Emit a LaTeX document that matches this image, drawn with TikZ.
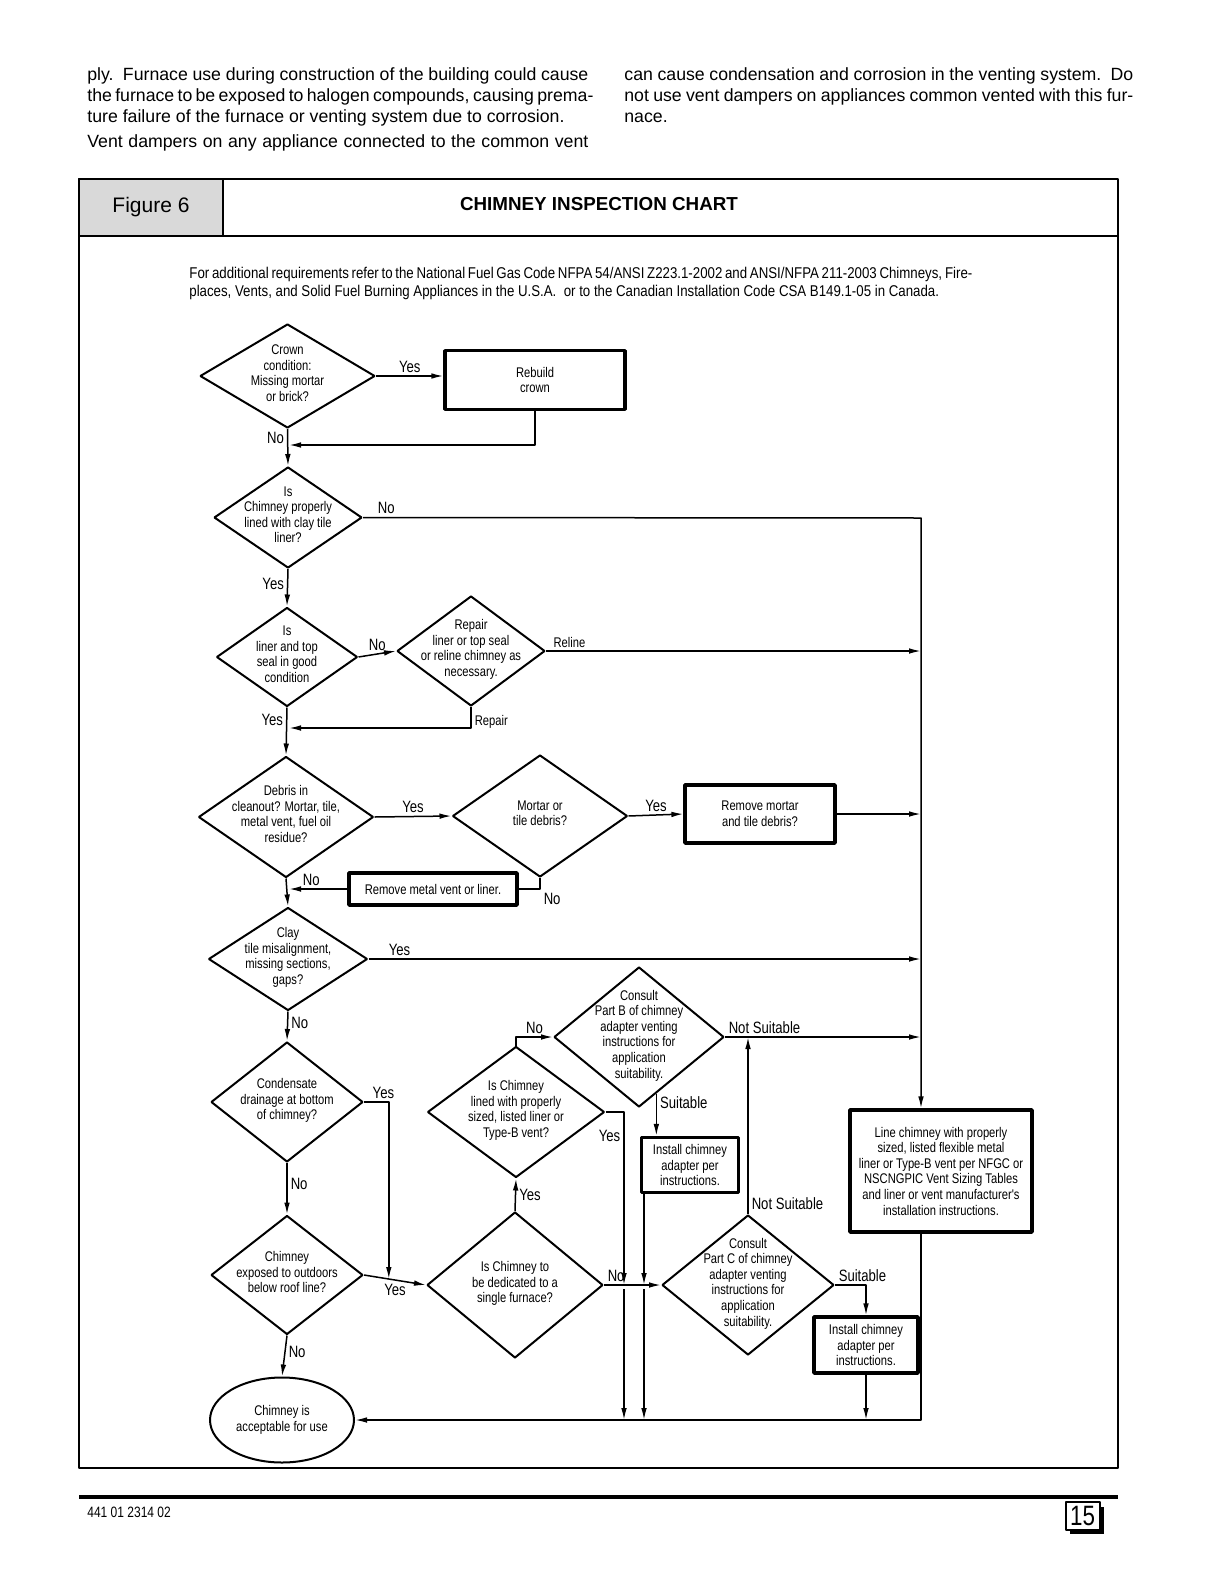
\documentclass[tikz,border=0pt]{standalone}
\usepackage{fontspec}
\usetikzlibrary{shapes.geometric,arrows.meta,calc}
\newfontfamily\bodyfont{Liberation Sans}
\newfontfamily\chartfont[FakeStretch=0.8]{Liberation Sans}
\newfontfamily\introfont[FakeStretch=0.85]{Liberation Sans}
\newcommand{\bodysize}{\bodyfont\fontsize{8.85}{10.5}\selectfont}
\newcommand{\chartsize}{\chartfont\fontsize{7}{7.8}\selectfont}
\newcommand{\introsize}{\introfont\fontsize{7.8}{9}\selectfont}
\newcommand{\labelsize}{\chartfont\fontsize{8.2}{9}\selectfont}
% text of a decision diamond, taking no room of its own
\newcommand{\dtext}[1]{\makebox[0pt]{\smash{\raisebox{-1.2pt}{\begin{tabular}{@{}c@{}}#1\end{tabular}}}}}
\newcommand{\fitline}[2]{\makebox[#1][s]{#2}}

\begin{document}
\begin{tikzpicture}[x=0.5pt,y=-0.5pt,>={Latex[length=6pt,width=2.8pt]},line join=bevel,
  decision/.style={diamond,draw,line width=1pt,inner sep=0pt,font=\chartsize},
  process/.style={rectangle,draw,line width=1.6pt,inner sep=1pt,align=center,font=\chartsize},
  lbl/.style={font=\labelsize,inner sep=1.5pt},
  flow/.style={line width=0.75pt}]
\useasboundingbox (0,0) rectangle (1212,1574);
\fill[white] (0,0) rectangle (1212,1574);
  % Page text above the figure
  \node[anchor=base west,inner sep=0pt,font=\bodysize] (p1) at (87,80) {\fitline{250.5pt}{ply.\ \ Furnace use during construction of the building could cause}};
  \node[anchor=base west,inner sep=0pt,font=\bodysize] (p2) at (87,101) {\fitline{250.5pt}{the furnace to be exposed to halogen compounds, causing prema-}};
  \node[anchor=base west,inner sep=0pt,font=\bodysize] (p3) at (87,122) {ture failure of the furnace or venting system due to corrosion.};
  \node[anchor=base west,inner sep=0pt,font=\bodysize] (p4) at (87,147) {\fitline{250.5pt}{Vent dampers on any appliance connected to the common vent}};
  \node[anchor=base west,inner sep=0pt,font=\bodysize] (q1) at (624,80) {\fitline{254.5pt}{can cause condensation and corrosion in the venting system.\ \ Do}};
  \node[anchor=base west,inner sep=0pt,font=\bodysize] (q2) at (624,101) {\fitline{254.5pt}{not use vent dampers on appliances common vented with this fur-}};
  \node[anchor=base west,inner sep=0pt,font=\bodysize] (q3) at (624,122) {nace.};
  % Frame and heading
  \draw[line width=1pt] (79,179) rectangle (1118,1468);
  \draw[line width=1pt] (79,236) -- (1118,236);
  \node[draw,line width=1pt,fill=black!15,minimum width=72pt,minimum height=28.5pt,font=\bodyfont\fontsize{10.5}{12}\selectfont] (figcell) at (151,207.5) {Figure 6};
  \node[font=\bodyfont\bfseries\fontsize{9.4}{11}\selectfont] (title) at (599,204) {CHIMNEY INSPECTION CHART};
  \node[anchor=base west,inner sep=0pt,font=\introsize] (intro1) at (189,278) {\fitline{391.5pt}{For additional requirements refer to the National Fuel Gas Code NFPA 54/ANSI Z223.1-2002 and ANSI/NFPA 211-2003 Chimneys, Fire-}};
  \node[anchor=base west,inner sep=0pt,font=\introsize] (intro2) at (189,296) {places, Vents, and Solid Fuel Burning Appliances in the U.S.A.\ \ or to the Canadian Installation Code CSA B149.1-05 in Canada.};
  % Node: crown
  \node[decision,minimum width=87.5pt,minimum height=52pt] (crown) at (287.5,376) {\dtext{Crown\\condition:\\Missing mortar\\or brick?}};
  % Node: rebuild
  \node[process,minimum width=90pt,minimum height=29.5pt] (rebuild) at (535,380) {Rebuild\\crown};
  % Node: lined
  \node[decision,minimum width=74pt,minimum height=50.5pt] (lined) at (288,517.5) {\dtext{Is\\Chimney properly\\lined with clay tile\\liner?}};
  % Node: liner
  \node[decision,minimum width=70.5pt,minimum height=49.5pt] (liner) at (287,657) {\dtext{Is\\liner and top\\seal in good\\condition}};
  % Node: repair
  \node[decision,minimum width=74pt,minimum height=55pt] (repair) at (471,651) {\dtext{Repair\\liner or top seal\\or reline chimney as\\necessary.}};
  % Node: debris
  \node[decision,minimum width=87.5pt,minimum height=60.5pt] (debris) at (286,817) {\dtext{Debris in\\cleanout? Mortar, tile,\\metal vent, fuel oil\\residue?}};
  % Node: mortar
  \node[decision,minimum width=87.5pt,minimum height=61pt] (mortar) at (540,816) {\dtext{Mortar or\\tile debris?}};
  % Node: remortar
  \node[process,minimum width=75pt,minimum height=29pt] (remortar) at (760,814) {Remove mortar\\and tile debris?};
  % Node: removemetal
  \node[process,minimum width=84pt,minimum height=16pt] (removemetal) at (433,889) {Remove metal vent or liner.};
  % Node: clay
  \node[decision,minimum width=79.5pt,minimum height=51.5pt] (clay) at (288,959) {\dtext{Clay\\tile misalignment,\\missing sections,\\gaps?}};
  % Node: condensate
  \node[decision,minimum width=76pt,minimum height=60pt] (condensate) at (287,1102) {\dtext{Condensate\\drainage at bottom\\of chimney?}};
  % Node: exposed
  \node[decision,minimum width=76pt,minimum height=59.5pt] (exposed) at (287,1275) {\dtext{Chimney\\exposed to outdoors\\below roof line?}};
  % Node: accept
  \node[ellipse,draw,line width=1pt,minimum width=72pt,minimum height=42.5pt,inner sep=0pt,align=center,font=\chartsize] (accept) at (282,1420) {Chimney is\\acceptable for use};
  % Node: dedicated
  \node[decision,minimum width=88pt,minimum height=73pt] (dedicated) at (515,1285) {\dtext{Is Chimney to\\be dedicated to a\\single furnace?}};
  % Node: sized
  \node[decision,minimum width=88.5pt,minimum height=65.5pt] (sized) at (516,1112) {\dtext{Is Chimney\\lined with properly\\sized, listed liner or\\Type-B vent?}};
  % Node: partb
  \node[decision,minimum width=85pt,minimum height=70pt] (partb) at (639,1037) {\dtext{Consult\\Part B of chimney\\adapter venting\\instructions for\\application\\suitability.}};
  % Node: adapterb
  \node[process,minimum width=48.5pt,minimum height=27.5pt] (adapterb) at (690,1165) {Install chimney\\adapter per\\instructions.};
  % Node: partc
  \node[decision,minimum width=86pt,minimum height=70pt] (partc) at (748,1285) {\dtext{Consult\\Part C of chimney\\adapter venting\\instructions for\\application\\suitability.}};
  % Node: adapterc
  \node[process,minimum width=52pt,minimum height=28pt] (adapterc) at (866,1345) {Install chimney\\adapter per\\instructions.};
  % Node: linebox
  \node[process,minimum width=91pt,minimum height=61pt] (linebox) at (941,1171) {Line chimney with properly\\sized, listed flexible metal\\liner or Type-B vent per NFGC or\\NSCNGPIC Vent Sizing Tables\\and liner or vent manufacturer's\\installation instructions.};
  \coordinate (trunk) at (921,518);
  \coordinate (j1) at (289,445);
  \coordinate (j2) at (289,728);
  \coordinate (j3) at (289,889);
  \coordinate (j4) at ($(exposed.east)!0.4!(dedicated.west)$);
  \coordinate (ya) at (624,1285);
  \coordinate (yb) at (644,1285);
  % Edge: crown -> rebuild
  \draw[flow,->] (crown.east) -- node[lbl,above] (ly1) {Yes} (crown.east -| rebuild.west);
  % Edge: rebuild -> j1
  \draw[flow,->] (rebuild.south) |- (j1);
  % Edge: crown -> lined
  \draw[flow,->] (crown.south) -- node[lbl,left,pos=0.25] (ln1) {No} (lined.north);
  % Edge: lined -> linebox
  \draw[flow,->] (lined.east) -- node[lbl,above right,pos=0.02] (ln2) {No} (trunk) -- (trunk |- linebox.north);
  % Edge: lined -> liner
  \draw[flow,->] (lined.south) -- node[lbl,left,pos=0.4] (ly2) {Yes} (liner.north);
  % Edge: liner -> repair
  \draw[flow,->] (liner.east) -- node[lbl,above] (ln3) {No} (repair.west);
  % Edge: repair -> trunk
  \draw[flow,->] (repair.east) -- node[lbl,font=\chartsize,above right,pos=0.01] (lrel) {Reline} (repair.east -| trunk);
  % Edge: repair -> j2
  \draw[flow,->] (repair.south) |- node[lbl,font=\chartsize,right,pos=0.35] (lrep) {Repair} (j2);
  % Edge: liner -> debris
  \draw[flow,->] (liner.south) -- node[lbl,left,pos=0.25] (ly3) {Yes} (debris.north);
  % Edge: debris -> mortar
  \draw[flow,->] (debris.east) -- node[lbl,above] (ly4) {Yes} (mortar.west);
  % Edge: mortar -> remortar
  \draw[flow,->] (mortar.east) -- node[lbl,above] (ly5) {Yes} (remortar.west);
  % Edge: remortar -> trunk
  \draw[flow,->] (remortar.east) -- (remortar.east -| trunk);
  % Edge: mortar -> removemetal
  \draw[flow] (mortar.south) |- node[lbl,below right,pos=0.5] (ln4) {No} (removemetal.east);
  % Edge: removemetal -> j3
  \draw[flow,->] (removemetal.west) -- node[lbl,above,pos=0.62] (ln5) {No} (j3);
  % Edge: debris -> clay
  \draw[flow,->] (debris.south) -- (clay.north);
  % Edge: clay -> trunk
  \draw[flow,->] (clay.east) -- node[lbl,above right,pos=0.03] (ly6) {Yes} (clay.east -| trunk);
  % Edge: clay -> condensate
  \draw[flow,->] (clay.south) -- node[lbl,right,pos=0.4] (ln6) {No} (condensate.north);
  % Edge: condensate -> exposed
  \draw[flow,->] (condensate.south) -- node[lbl,right,pos=0.4] (ln7) {No} (exposed.north);
  % Edge: condensate -> j4
  \draw[flow,->] (condensate.east) -| node[lbl,above right,pos=0.1] (ly7) {Yes} (j4);
  % Edge: exposed -> dedicated
  \draw[flow,->] (exposed.east) -- node[lbl,below] (ly8) {Yes} (dedicated.west);
  % Edge: exposed -> accept
  \draw[flow,->] (exposed.south) -- node[lbl,right,pos=0.4] (ln8) {No} (accept.north);
  % Edge: dedicated -> sized
  \draw[flow,->] (dedicated.north) -- node[lbl,right] (ly9) {Yes} (sized.south);
  % Edge: sized -> partb
  \draw[flow,->] (sized.north) |- node[lbl,above,pos=0.75] (ln9) {No} (partb.west);
  % Edge: sized -> ya -> accept
  \draw[flow,->] (sized.east) -| node[lbl,left,pos=0.57] (ly10) {Yes} (ya);
  \draw[flow,->] ([yshift=-2pt]ya) -- (ya |- accept.east);
  % Edge: partb -> adapterb
  \draw[flow,->] (partb.-73) -- node[lbl,right,pos=0.2] (lsu1) {Suitable} (partb.-73 |- adapterb.north);
  % Edge: adapterb -> yb -> accept
  \draw[flow,->] (adapterb.south -| yb) -- (yb);
  \draw[flow,->] ([yshift=-2pt]yb) -- (yb |- accept.east);
  % Edge: partb -> trunk
  \draw[flow,->] (partb.east) -- node[lbl,above right,pos=0] (lns1) {Not Suitable} (partb.east -| trunk);
  % Edge: dedicated -> partc
  \draw[flow,->] (dedicated.east) -- node[lbl,above right,pos=0] (ln10) {No} (partc.west);
  % Edge: partc -> partb line
  \draw[flow,->] (partc.north) -- node[lbl,right,pos=0.06] (lns2) {Not Suitable} (partc.north |- partb.east);
  % Edge: partc -> adapterc
  \draw[flow,->] (partc.east) -| node[lbl,above right,pos=0] (lsu2) {Suitable} (adapterc.north);
  % Edge: adapterc -> bottom line
  \draw[flow,->] (adapterc.south) -- (adapterc.south |- accept.east);
  % Edge: linebox -> accept
  \draw[flow,->] (linebox.south -| trunk) |- (accept.east);
  % Footer
  \draw[line width=2pt] (79,1497) -- (1118,1497);
  \node[anchor=west,inner sep=0pt,font=\chartfont\fontsize{7.5}{9}\selectfont] (docno) at (87,1512) {441 01 2314 02};
  \fill (1070,1507) rectangle (1104,1534);
  \node[draw,line width=1pt,fill=white,minimum width=17pt,minimum height=14pt,inner sep=0pt,font=\chartfont\fontsize{14}{14}\selectfont] (pageno) at (1082.5,1516) {15};
\end{tikzpicture}
\end{document}
